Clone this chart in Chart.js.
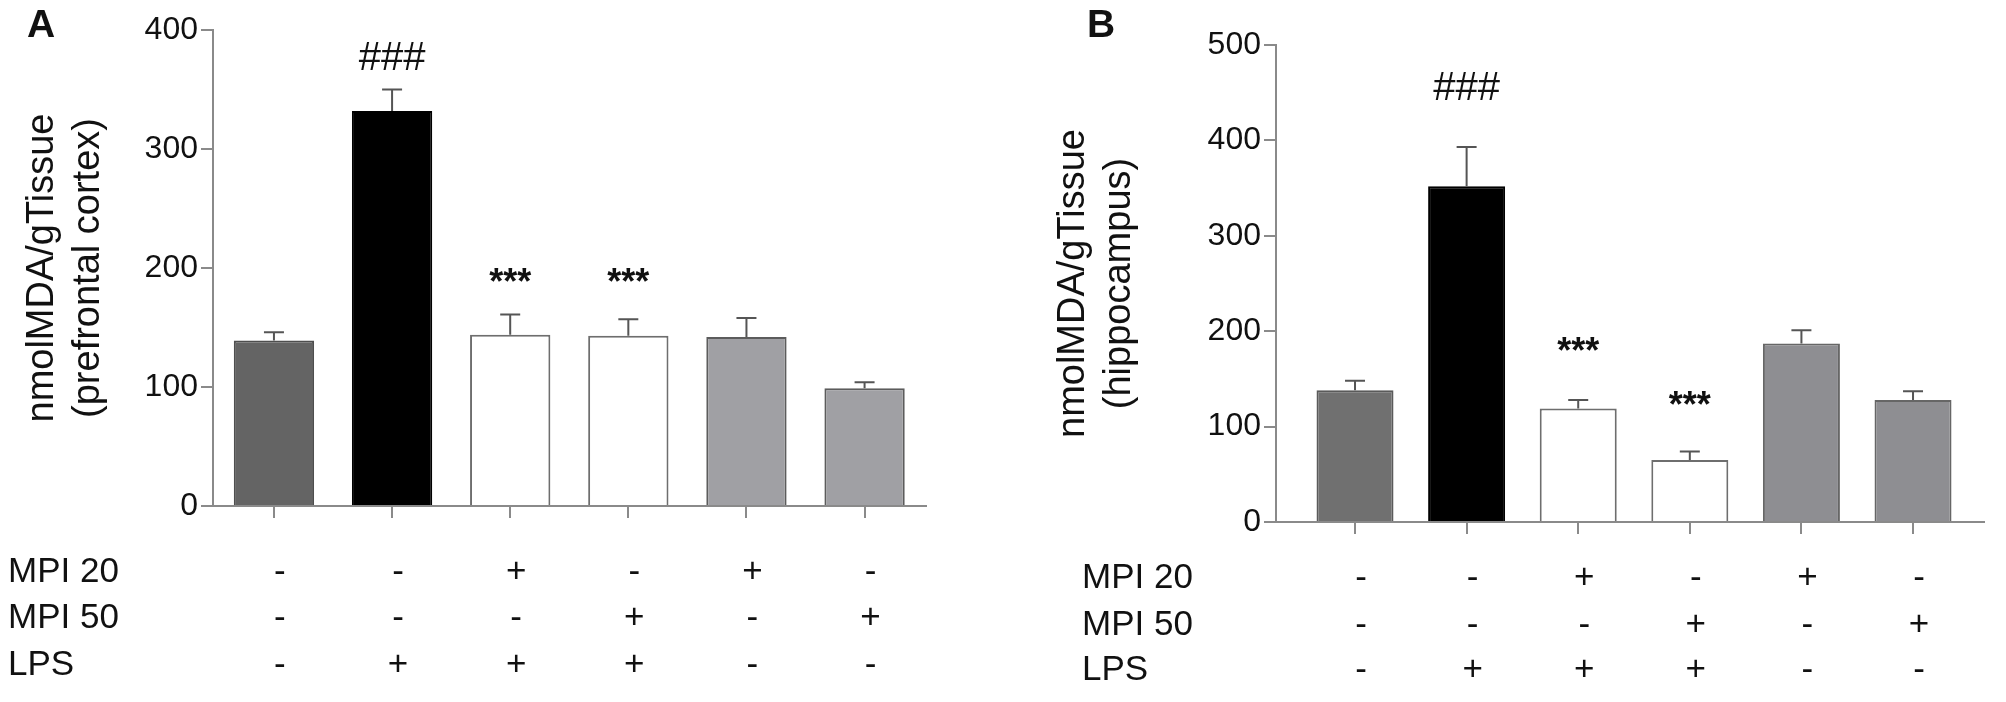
<!DOCTYPE html>
<html>
<head>
<meta charset="utf-8">
<script src="https://cdn.jsdelivr.net/npm/chart.js@4.4.1/dist/chart.umd.min.js"></script>
<style>
  html, body { margin: 0; padding: 0; background: #fff; }
  #wrap { position: relative; width: 2006px; height: 702px; }
  canvas { position: absolute; top: 0; }
  #panelA { left: 0; }
  #panelB { left: 1003px; }
</style>
</head>
<body>
<div id="wrap">
  <canvas id="panelA" width="1003" height="702"></canvas>
  <canvas id="panelB" width="1003" height="702"></canvas>
</div>
<script>
// groups (in bar order)
const categories = ['Control', 'LPS', 'MPI 20 + LPS', 'MPI 50 + LPS', 'MPI 20', 'MPI 50'];

// treatment table under the bars
const rowLabels = ['MPI 20', 'MPI 50', 'LPS'];
const mpi20Signs = ['-', '-', '+', '-', '+', '-'];
const mpi50Signs = ['-', '-', '-', '+', '-', '+'];
const lpsSigns   = ['-', '+', '+', '+', '-', '-'];

// A: prefrontal cortex
const cortexMeans = [139, 332, 144, 143, 142, 99];
const cortexSem   = [7, 18, 17, 14, 16, 5];
const cortexMarks = ['', '###', '***', '***', '', ''];
const cortexMarkLevels = [0, 378, 194, 194, 0, 0];
const cortexTicks = [0, 100, 200, 300, 400];

// B: hippocampus
const hippoMeans = [138, 352, 119, 65, 187, 128];
const hippoSem   = [10, 41, 9, 9, 14, 9];
const hippoMarks = ['', '###', '***', '***', '', ''];
const hippoMarkLevels = [0, 457, 187, 130, 0, 0];
const hippoTicks = [0, 100, 200, 300, 400, 500];

const FONT = '"Liberation Sans", Arial, Helvetica, sans-serif';
const AXIS_GREY = '#8a8a8a';

const decorPlugin = {
  id: 'decor',
  afterDatasetsDraw(chart, args, o) {
    const ctx = chart.ctx;
    const ys = chart.scales.y;
    const bars = chart.getDatasetMeta(0).data;
    ctx.save();

    // error bars (upper half only)
    ctx.strokeStyle = '#555555';
    ctx.lineWidth = 2;
    bars.forEach((bar, i) => {
      const top = ys.getPixelForValue(o.means[i] + o.sem[i]);
      ctx.beginPath();
      ctx.moveTo(bar.x, bar.y);
      ctx.lineTo(bar.x, top);
      ctx.moveTo(bar.x - 10, top);
      ctx.lineTo(bar.x + 10, top);
      ctx.stroke();
    });

    // significance marks
    ctx.fillStyle = '#111';
    ctx.textAlign = 'center';
    ctx.textBaseline = 'alphabetic';
    o.marks.forEach((m, i) => {
      if (!m) return;
      ctx.font = m[0] === '#' ? '40px ' + FONT : 'bold 36px ' + FONT;
      const tm = ctx.measureText(m);
      const cy = ys.getPixelForValue(o.markLevels[i]);
      ctx.fillText(m, bars[i].x, cy + (tm.actualBoundingBoxAscent - tm.actualBoundingBoxDescent) / 2);
    });

    // panel letter
    ctx.textAlign = 'left';
    ctx.font = 'bold 39px ' + FONT;
    ctx.fillText(o.letter, o.letterX, 37);

    // treatment table
    ctx.font = '35px ' + FONT;
    const signRows = [mpi20Signs, mpi50Signs, lpsSigns];
    rowLabels.forEach((lab, r) => {
      const base = o.rowBase[r];
      ctx.textAlign = 'left';
      ctx.fillText(lab, o.rowLabelX, base);
      ctx.textAlign = 'center';
      signRows[r].forEach((s, i) => {
        ctx.fillText(s, bars[i].x + 6, base);
      });
    });
    ctx.restore();
  }
};

function makePanel(id, p) {
  const ctx = document.getElementById(id).getContext('2d');
  return new Chart(ctx, {
    type: 'bar',
    data: {
      labels: categories,
      datasets: [{
        data: p.means.map((v, i) => ({ x: i, y: v })),
        backgroundColor: p.fills,
        borderColor: p.borders,
        borderWidth: 2,
        barPercentage: p.barPct,
        categoryPercentage: 1
      }]
    },
    options: {
      responsive: false,
      animation: false,
      devicePixelRatio: 1,
      layout: { padding: p.padding },
      plugins: {
        legend: { display: false },
        tooltip: { enabled: false },
        decor: p.decor
      },
      scales: {
        x: {
          type: 'linear',
          offset: false,
          min: p.xMin,
          max: p.xMax,
          ticks: { display: false, stepSize: 1, includeBounds: false },
          grid: { offset: false, drawOnChartArea: false, drawTicks: true, tickLength: 12, color: AXIS_GREY, lineWidth: 2 },
          border: { color: AXIS_GREY, width: 2 },
          afterFit(s) { s.height = p.xHeight; }
        },
        y: {
          min: 0,
          max: p.ticks[p.ticks.length - 1],
          afterBuildTicks(s) { s.ticks = p.ticks.map(v => ({ value: v })); },
          ticks: { color: '#111', padding: 3, font: { family: FONT, size: 32 } },
          grid: { drawOnChartArea: false, drawTicks: true, tickLength: 12, color: AXIS_GREY, lineWidth: 2 },
          border: { color: AXIS_GREY, width: 2 },
          title: {
            display: true,
            text: p.yTitle,
            color: '#111',
            font: { family: FONT, size: 38, lineHeight: 1.22 },
            padding: { top: p.titlePad, bottom: 0 }
          },
          afterFit(s) { s.width = p.yWidth; }
        }
      }
    },
    plugins: [decorPlugin]
  });
}

makePanel('panelA', {
  means: cortexMeans,
  ticks: cortexTicks,
  fills: ['#646464', '#000000', '#ffffff', '#ffffff', '#a0a0a4', '#a0a0a4'],
  borders: ['#4e4e4e', '#000000', '#6e6e6e', '#6e6e6e', '#5c5c5c', '#5c5c5c'],
  barPct: 0.68,
  padding: { top: 30, right: 77, bottom: 0, left: 0 },
  xMin: -0.516, xMax: 5.52, xHeight: 196,
  yWidth: 213,
  yTitle: ['nmolMDA/gTissue', '(prefrontal cortex)'],
  titlePad: 19,
  decor: {
    means: cortexMeans, sem: cortexSem,
    marks: cortexMarks, markLevels: cortexMarkLevels,
    letter: 'A', letterX: 27,
    rowLabelX: 8, rowBase: [582, 628, 675]
  }
});

makePanel('panelB', {
  means: hippoMeans,
  ticks: hippoTicks,
  fills: ['#707070', '#000000', '#ffffff', '#ffffff', '#8e8e92', '#8e8e92'],
  borders: ['#5a5a5a', '#000000', '#6e6e6e', '#6e6e6e', '#666666', '#666666'],
  barPct: 0.69,
  padding: { top: 45, right: 22, bottom: 0, left: 0 },
  xMin: -0.708, xMax: 5.636, xHeight: 180,
  yWidth: 273,
  yTitle: ['nmolMDA/gTissue', '(hippocampus)'],
  titlePad: 47,
  decor: {
    means: hippoMeans, sem: hippoSem,
    marks: hippoMarks, markLevels: hippoMarkLevels,
    letter: 'B', letterX: 84,
    rowLabelX: 79, rowBase: [588, 635, 680]
  }
});
</script>
</body>
</html>
